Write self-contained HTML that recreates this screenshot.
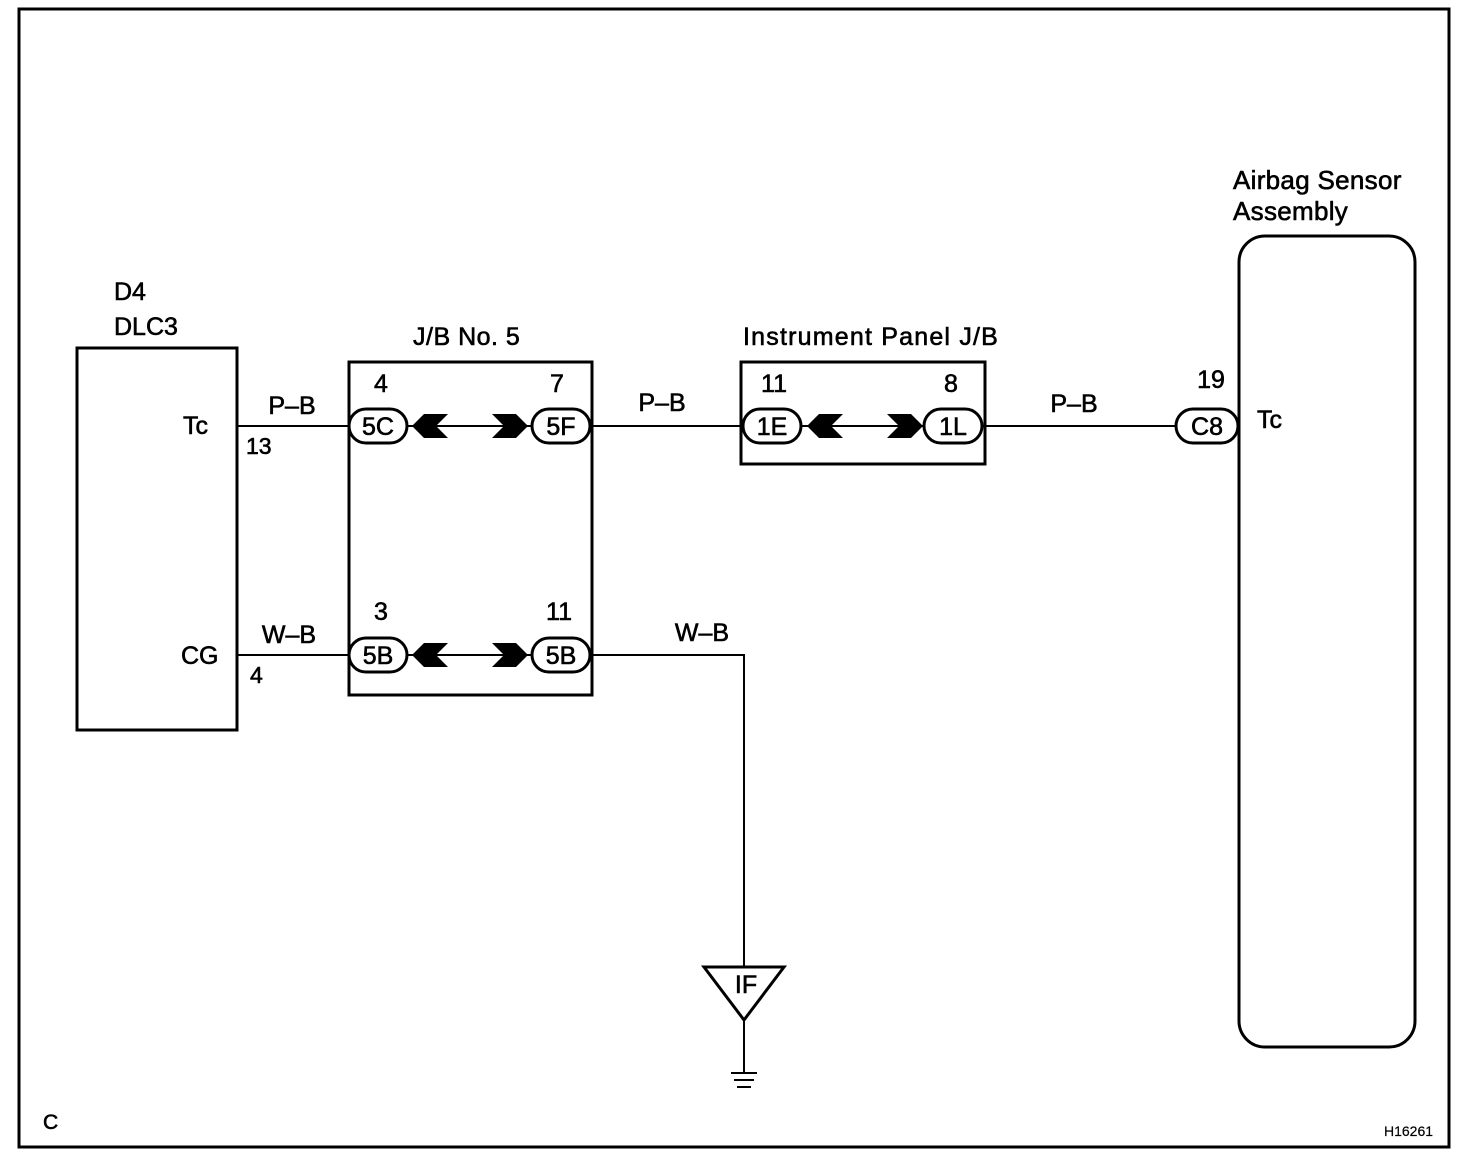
<!DOCTYPE html>
<html><head><meta charset="utf-8"><style>
html,body{margin:0;padding:0;background:#fff}
svg{display:block}
text{font-family:"Liberation Sans",Arial,sans-serif;fill:#000;stroke:#000;stroke-width:0.6}
</style></head><body>
<svg width="1472" height="1160" viewBox="0 0 1472 1160" xmlns="http://www.w3.org/2000/svg">
<rect x="19" y="9" width="1430" height="1138" fill="none" stroke="#000" stroke-width="3"/>
<!-- DLC3 -->
<rect x="77" y="348" width="160" height="382" fill="none" stroke="#000" stroke-width="3"/>
<text x="114" y="300" font-size="25">D4</text>
<text x="114" y="335" font-size="25">DLC3</text>
<text x="183" y="434" font-size="25">Tc</text>
<text x="181" y="664" font-size="25">CG</text>
<text x="246" y="454" font-size="23">13</text>
<text x="250" y="683" font-size="23">4</text>
<!-- J/B No.5 -->
<rect x="349" y="362" width="243" height="333" fill="none" stroke="#000" stroke-width="3"/>
<text x="413" y="345" font-size="25" letter-spacing="0.5">J/B No. 5</text>
<!-- IP J/B -->
<rect x="741" y="362" width="244" height="102" fill="none" stroke="#000" stroke-width="3"/>
<text x="743" y="345" font-size="25" letter-spacing="1.2">Instrument Panel J/B</text>
<!-- Airbag -->
<rect x="1239" y="236" width="176" height="811" rx="26" fill="none" stroke="#000" stroke-width="3"/>
<text x="1233" y="189" font-size="26" letter-spacing="0.3">Airbag Sensor</text>
<text x="1233" y="220" font-size="26" letter-spacing="0.3">Assembly</text>
<text x="1257" y="428" font-size="25">Tc</text>
<!-- wires -->
<g stroke="#000" stroke-width="2" fill="none">
<line x1="237" y1="426" x2="352" y2="426"/>
<line x1="404" y1="426" x2="535" y2="426"/>
<line x1="587" y1="426" x2="746" y2="426"/>
<line x1="798" y1="426" x2="927" y2="426"/>
<line x1="979" y1="426" x2="1180" y2="426"/>
<line x1="237" y1="655" x2="352" y2="655"/>
<line x1="404" y1="655" x2="535" y2="655"/>
<polyline points="587,655 744,655 744,967"/>
<line x1="744" y1="1020" x2="744" y2="1073"/>
</g>
<!-- chevrons -->
<g fill="#000">
<polygon points="412,426 424,414 448,414 436,426 448,438 424,438"/>
<polygon points="412,655 424,643 448,643 436,655 448,667 424,667"/>
<polygon points="807,426 819,414 843,414 831,426 843,438 819,438"/>
<polygon points="528,426 516,414 492,414 504,426 492,438 516,438"/>
<polygon points="528,655 516,643 492,643 504,655 492,667 516,667"/>
<polygon points="923,426 911,414 887,414 899,426 887,438 911,438"/>
</g>
<!-- pills -->
<g fill="#fff" stroke="#000" stroke-width="3">
<rect x="349" y="409" width="58" height="34" rx="17"/>
<rect x="532" y="409" width="58" height="34" rx="17"/>
<rect x="743" y="409" width="58" height="34" rx="17"/>
<rect x="924" y="409" width="58" height="34" rx="17"/>
<rect x="1176" y="409" width="62" height="34" rx="17"/>
<rect x="349" y="638" width="58" height="34" rx="17"/>
<rect x="532" y="638" width="58" height="34" rx="17"/>
</g>
<g font-size="25" text-anchor="middle">
<text x="378" y="435">5C</text>
<text x="561" y="435">5F</text>
<text x="772" y="435">1E</text>
<text x="953" y="435">1L</text>
<text x="1207" y="435">C8</text>
<text x="378" y="664">5B</text>
<text x="561" y="664">5B</text>
<text x="381" y="392">4</text>
<text x="557" y="392">7</text>
<text x="774" y="392">11</text>
<text x="951" y="392">8</text>
<text x="1211" y="388">19</text>
<text x="381" y="620">3</text>
<text x="559" y="620">11</text>
<text x="292" y="414">P–B</text>
<text x="662" y="411">P–B</text>
<text x="1074" y="412">P–B</text>
<text x="289" y="643">W–B</text>
<text x="702" y="641">W–B</text>
</g>
<!-- ground -->
<polygon points="704,967 784,967 744,1020" fill="#fff" stroke="#000" stroke-width="3"/>
<text x="746" y="993" font-size="25" text-anchor="middle">IF</text>
<g stroke="#000" stroke-width="2">
<line x1="731" y1="1073" x2="757" y2="1073"/>
<line x1="734" y1="1080" x2="754" y2="1080"/>
<line x1="737" y1="1087" x2="751" y2="1087"/>
</g>
<text x="43" y="1129" font-size="21">C</text>
<text x="1384" y="1136" font-size="14" style="stroke-width:0.2">H16261</text>
</svg>
</body></html>
